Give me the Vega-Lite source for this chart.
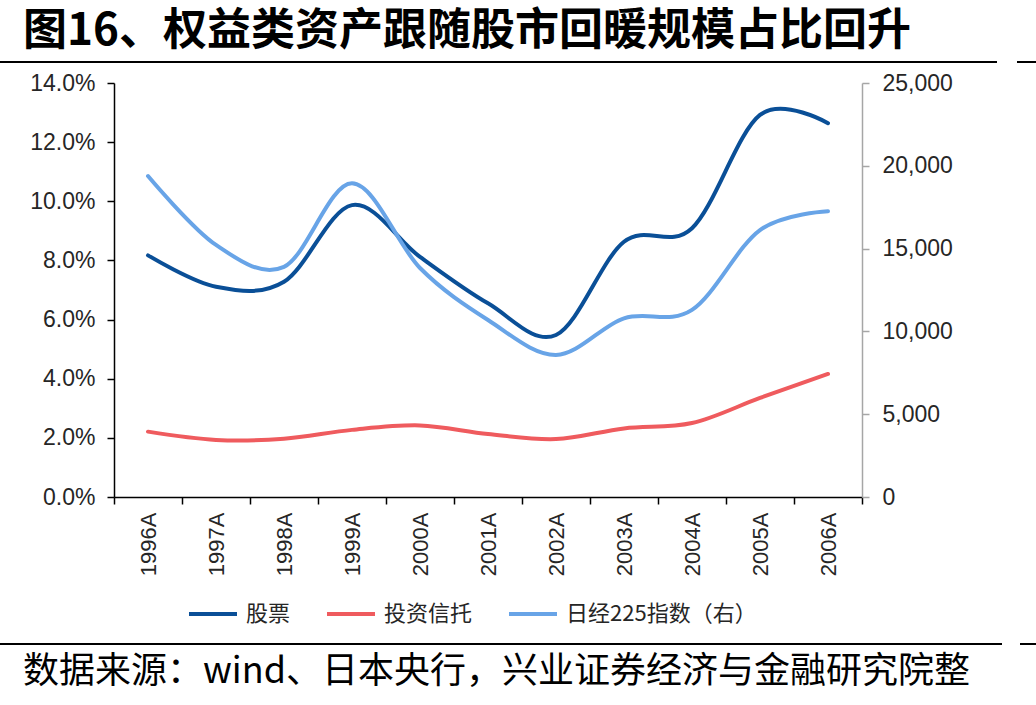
{
  "$schema": "https://vega.github.io/schema/vega-lite/v6.json",
  "background": "white",
  "padding": {"left": 0, "top": 9, "right": 0, "bottom": 0},
  "config": {
    "view": {"stroke": null},
    "font": "Noto Sans CJK SC",
    "axis": {
      "labelFont": "Liberation Sans",
      "labelFontSize": 22,
      "labelColor": "#262626",
      "grid": false,
      "tickSize": 7,
      "domainWidth": 1.5,
      "tickWidth": 1.5
    }
  },
  "datasets": {
    "rows": [
      {"year": "1996A", "series": "股票", "value": 0.0817},
      {"year": "1997A", "series": "股票", "value": 0.0711},
      {"year": "1998A", "series": "股票", "value": 0.0728},
      {"year": "1999A", "series": "股票", "value": 0.0987},
      {"year": "2000A", "series": "股票", "value": 0.0812},
      {"year": "2001A", "series": "股票", "value": 0.0655},
      {"year": "2002A", "series": "股票", "value": 0.0548},
      {"year": "2003A", "series": "股票", "value": 0.0863},
      {"year": "2004A", "series": "股票", "value": 0.0909},
      {"year": "2005A", "series": "股票", "value": 0.1292},
      {"year": "2006A", "series": "股票", "value": 0.1264},
      {"year": "1996A", "series": "投资信托", "value": 0.0221},
      {"year": "1997A", "series": "投资信托", "value": 0.0193},
      {"year": "1998A", "series": "投资信托", "value": 0.0197},
      {"year": "1999A", "series": "投资信托", "value": 0.0227},
      {"year": "2000A", "series": "投资信托", "value": 0.0242},
      {"year": "2001A", "series": "投资信托", "value": 0.0213},
      {"year": "2002A", "series": "投资信托", "value": 0.0196},
      {"year": "2003A", "series": "投资信托", "value": 0.0232},
      {"year": "2004A", "series": "投资信托", "value": 0.025},
      {"year": "2005A", "series": "投资信托", "value": 0.0335},
      {"year": "2006A", "series": "投资信托", "value": 0.0416},
      {"year": "1996A", "series": "日经225指数（右）", "value": 19380},
      {"year": "1997A", "series": "日经225指数（右）", "value": 15220},
      {"year": "1998A", "series": "日经225指数（右）", "value": 13900},
      {"year": "1999A", "series": "日经225指数（右）", "value": 18940},
      {"year": "2000A", "series": "日经225指数（右）", "value": 13830},
      {"year": "2001A", "series": "日经225指数（右）", "value": 10690},
      {"year": "2002A", "series": "日经225指数（右）", "value": 8580},
      {"year": "2003A", "series": "日经225指数（右）", "value": 10790},
      {"year": "2004A", "series": "日经225指数（右）", "value": 11300},
      {"year": "2005A", "series": "日经225指数（右）", "value": 16120},
      {"year": "2006A", "series": "日经225指数（右）", "value": 17260}
    ]
  },
  "spacing": 8,
  "resolve": {"scale": {"color": "independent"}, "legend": {"color": "independent"}},
  "vconcat": [
    {
      "spacing": 20,
      "hconcat": [
        {
          "width": 995,
          "height": 0.01,
          "view": {"stroke": "#000000", "strokeWidth": 2},
          "title": {
            "text": "图16、权益类资产跟随股市回暖规模占比回升",
            "anchor": "start",
            "dx": 22,
            "offset": 8,
            "font": "Noto Sans CJK SC",
            "fontSize": 44,
            "fontWeight": "bold",
            "color": "#000000"
          },
          "data": {"values": []},
          "mark": {"type": "rule"},
          "encoding": {}
        },
        {
          "width": 21,
          "height": 0.01,
          "view": {"stroke": "#000000", "strokeWidth": 2},
          "data": {"values": []},
          "mark": {"type": "rule"},
          "encoding": {}
        }
      ]
    },
    {
      "spacing": 0,
      "resolve": {"scale": {"color": "independent"}, "legend": {"color": "independent"}},
      "hconcat": [
        {
          "width": 1,
          "height": 414,
          "data": {"values": []},
          "mark": {"type": "rule"},
          "encoding": {}
        },
        {
          "width": 748,
          "height": 414,
          "data": {"name": "rows"},
          "encoding": {
            "x": {
              "field": "year",
              "type": "ordinal",
              "sort": null,
              "scale": {"type": "band", "paddingInner": 0, "paddingOuter": 0},
              "axis": {
                "title": null,
                "labelAngle": 270,
                "labelAlign": "right",
                "labelBaseline": "middle",
                "labelPadding": 8,
                "tickBand": "extent",
                "domainColor": "#000000",
                "tickColor": "#000000"
              }
            },
            "color": {
              "field": "series",
              "type": "nominal",
              "sort": null,
              "scale": {
                "domain": ["股票", "投资信托", "日经225指数（右）"],
                "range": ["#0A4F97", "#EF5B5E", "#68A4E7"]
              },
              "legend": {
                "title": null,
                "orient": "none",
                "legendX": 63,
                "legendY": 495,
                "direction": "horizontal",
                "padding": 10,
                "symbolType": "stroke",
                "symbolSize": 2304,
                "symbolStrokeWidth": 4,
                "labelFont": "Noto Sans CJK SC",
                "labelFontSize": 22,
                "labelColor": "#262626",
                "labelOffset": 7,
                "labelLimit": 400,
                "columnPadding": 28
              }
            }
          },
          "layer": [
            {
              "transform": [{"filter": "datum.series !== '日经225指数（右）'"}],
              "mark": {"type": "line", "interpolate": "cardinal", "strokeWidth": 4, "strokeCap": "round"},
              "encoding": {
                "y": {
                  "field": "value",
                  "type": "quantitative",
                  "scale": {"domain": [0, 0.14], "nice": false, "zero": true},
                  "axis": {
                    "title": null,
                    "orient": "left",
                    "values": [0, 0.02, 0.04, 0.06, 0.08, 0.1, 0.12, 0.14],
                    "format": ".1%",
                    "labelFontSize": 23,
                    "labelPadding": 12,
                    "minExtent": 112,
                    "domainColor": "#000000",
                    "tickColor": "#000000"
                  }
                }
              }
            },
            {
              "transform": [{"filter": "datum.series === '日经225指数（右）'"}],
              "mark": {"type": "line", "interpolate": "cardinal", "strokeWidth": 4, "strokeCap": "round"},
              "encoding": {
                "y": {
                  "field": "value",
                  "type": "quantitative",
                  "scale": {"domain": [0, 25000], "nice": false},
                  "axis": {
                    "title": null,
                    "orient": "right",
                    "values": [0, 5000, 10000, 15000, 20000, 25000],
                    "format": ",.0f",
                    "labelFontSize": 23,
                    "labelPadding": 13,
                    "domainColor": "#A6A6A6",
                    "tickColor": "#A6A6A6"
                  }
                }
              }
            }
          ],
          "resolve": {"scale": {"y": "independent"}}
        }
      ]
    },
    {
      "spacing": 18,
      "hconcat": [
        {
          "width": 1000,
          "height": 0.01,
          "view": {"stroke": "#000000", "strokeWidth": 2},
          "title": {
            "text": "数据来源：wind、日本央行，兴业证券经济与金融研究院整",
            "orient": "bottom",
            "anchor": "start",
            "dx": 22,
            "offset": 11,
            "font": "Noto Sans CJK SC",
            "fontSize": 36,
            "fontWeight": "normal",
            "color": "#000000"
          },
          "data": {"values": []},
          "mark": {"type": "rule"},
          "encoding": {}
        },
        {
          "width": 18,
          "height": 0.01,
          "view": {"stroke": "#000000", "strokeWidth": 2},
          "data": {"values": []},
          "mark": {"type": "rule"},
          "encoding": {}
        }
      ]
    }
  ]
}
